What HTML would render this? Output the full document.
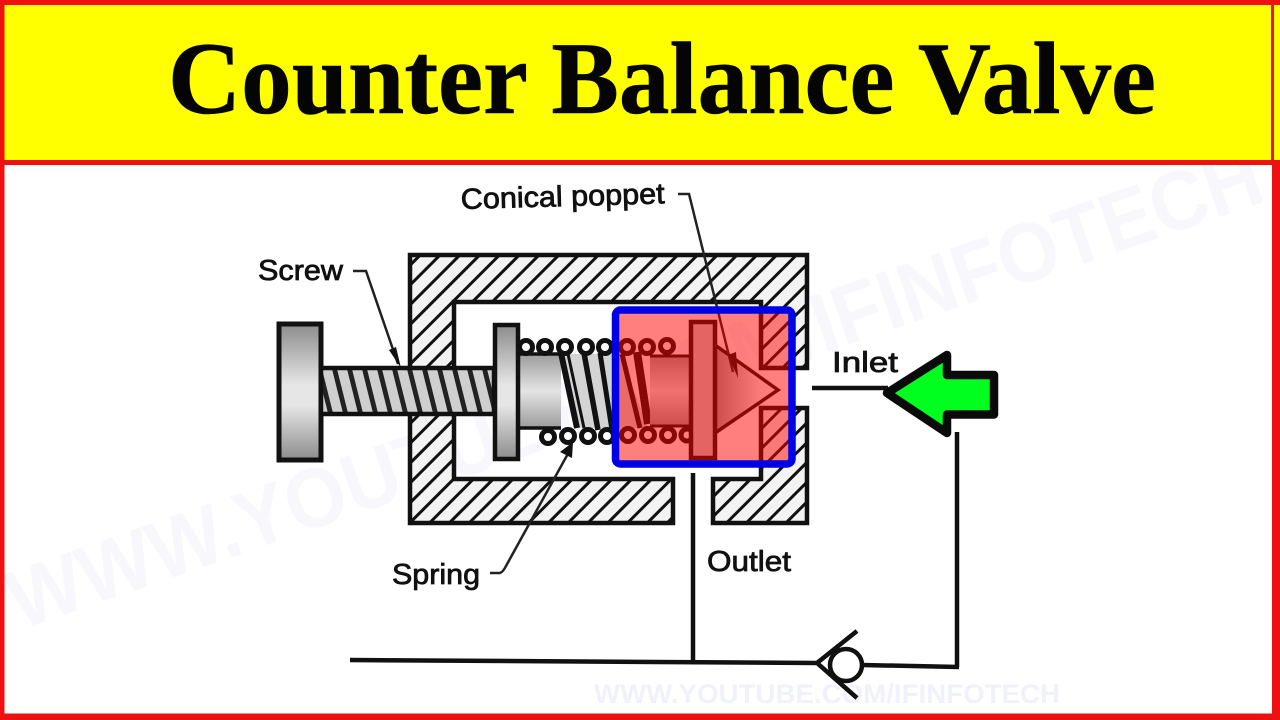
<!DOCTYPE html>
<html><head><meta charset="utf-8"><style>
html,body{margin:0;padding:0;background:#fff;width:1280px;height:720px;overflow:hidden}
svg{display:block}
</style></head><body>
<svg width="1280" height="720" viewBox="0 0 1280 720" xmlns="http://www.w3.org/2000/svg">
<defs>
<pattern id="hatch" width="14" height="14" patternUnits="userSpaceOnUse" patternTransform="rotate(45)">
<rect width="14" height="14" fill="#f3f3f3"/><rect x="0" width="3" height="14" fill="#111"/>
</pattern>
<linearGradient id="vg" x1="0" y1="0" x2="0" y2="1">
<stop offset="0" stop-color="#8c8c8c"/><stop offset=".45" stop-color="#e6e6e6"/><stop offset=".6" stop-color="#e6e6e6"/><stop offset="1" stop-color="#8c8c8c"/>
</linearGradient>
<linearGradient id="vg2" x1="0" y1="0" x2="0" y2="1">
<stop offset="0" stop-color="#9c9c9c"/><stop offset=".5" stop-color="#e4e4e4"/><stop offset="1" stop-color="#9c9c9c"/>
</linearGradient>
<linearGradient id="cone" x1="0" y1="0" x2="1" y2="0">
<stop offset="0" stop-color="#999"/><stop offset=".7" stop-color="#f4f4f4"/><stop offset="1" stop-color="#fff"/>
</linearGradient>
<pattern id="thread" width="15" height="50" patternUnits="userSpaceOnUse" patternTransform="skewX(14)">
<rect width="15" height="50" fill="#cfcfcf"/><rect x="0" width="5" height="50" fill="#222"/>
</pattern>
</defs>
<rect width="1280" height="720" fill="#fff"/>

<!-- watermark -->
<text x="20" y="630" font-family="Liberation Sans, sans-serif" font-weight="bold" font-size="84" fill="#f8f8fc" transform="rotate(-19 20 630)" textLength="1320" lengthAdjust="spacingAndGlyphs">WWW.YOUTUBE.COM/IFINFOTECH</text>
<text x="594" y="703" font-family="Liberation Sans, sans-serif" font-weight="bold" font-size="27" fill="#f1f1fa" textLength="466" lengthAdjust="spacingAndGlyphs">WWW.YOUTUBE.COM/IFINFOTECH</text>

<!-- valve body -->
<path d="M410 255H807V368H761V302H454V479H673V523H410Z" fill="url(#hatch)" stroke="#111" stroke-width="4.5"/>
<path d="M761 408H807V523H713V479H761Z" fill="url(#hatch)" stroke="#111" stroke-width="4.5"/>

<!-- knob -->
<rect x="279" y="324" width="42" height="136" fill="url(#vg)" stroke="#111" stroke-width="5"/>
<!-- shaft -->
<rect x="321" y="368" width="173" height="46" fill="url(#thread)" stroke="#111" stroke-width="4.5"/>
<!-- piston -->
<rect x="519" y="354" width="42" height="74" fill="url(#vg2)"/>
<path d="M519 354H561M519 428H561" stroke="#111" stroke-width="3.5"/>
<!-- spring strips -->
<path d="M560 354L620 354L648 428H578Z" fill="#d4d4d4"/>
<g stroke="#111" fill="none">
<path d="M561 353L577 428" stroke-width="6"/>
<path d="M568 354L584 428" stroke-width="3"/>
<path d="M584 353L598 430" stroke-width="5.5"/>
<path d="M600 353L612 430" stroke-width="5"/>
<path d="M622 354L640 428" stroke-width="5"/>
<path d="M637 352L648 424" stroke-width="8"/>
</g>
<!-- coils -->
<g fill="#fff" stroke="#111" stroke-width="5">
<circle cx="526" cy="347" r="6.5"/><circle cx="545" cy="347" r="6.5"/><circle cx="565" cy="347" r="6.5"/><circle cx="586" cy="347" r="6.5"/><circle cx="605" cy="347" r="6.5"/><circle cx="627" cy="347" r="6.5"/><circle cx="647" cy="347" r="6.5"/><circle cx="667" cy="346" r="6.5"/>
<circle cx="548" cy="437" r="6.5"/><circle cx="568" cy="436" r="6.5"/><circle cx="588" cy="436" r="6.5"/><circle cx="607" cy="436" r="6.5"/><circle cx="628" cy="435" r="6.5"/><circle cx="648" cy="435" r="6.5"/><circle cx="668" cy="435" r="6.5"/><circle cx="687" cy="435" r="6"/>
</g>
<!-- flange -->
<rect x="495" y="325" width="23" height="134" fill="url(#vg)" stroke="#111" stroke-width="4.5"/>
<!-- second piston -->
<rect x="650" y="356" width="40" height="70" fill="url(#vg2)"/>
<path d="M650 356H690M650 426H690" stroke="#111" stroke-width="3"/>
<!-- cone -->
<path d="M715 345L778 390L715 433Z" fill="url(#cone)" stroke="#111" stroke-width="3.5"/>
<!-- poppet flange -->
<rect x="691" y="322" width="24" height="136" fill="#c8c8c8" stroke="#111" stroke-width="4.5"/>

<!-- lines -->
<g stroke="#111" fill="none" stroke-width="4.5">
<path d="M812 388H888"/>
<path d="M957 432V667"/>
<path d="M693 473V660"/>
<path d="M350 660L816 663"/>
<path d="M862 665L959 667"/>
<circle cx="846" cy="665" r="16"/>
<path d="M857 631L817 663L857 698"/>
</g>
<!-- leaders -->
<g stroke="#222" fill="none" stroke-width="2.5">
<path d="M353 271H366L398 364"/>
<path d="M678 194H689L733 372"/>
<path d="M490 573H500Q503 572 506 566L570 450"/>
</g>
<g fill="#111">
<path d="M401 368L389 350L396 347Z"/>
<path d="M738 378L728 355L736 352Z"/>
<path d="M573 442L572 458L560 452Z"/>
</g>

<!-- labels -->
<g font-family="Liberation Sans, sans-serif" fill="#111" font-size="29" stroke="#111" stroke-width=".8">
<text x="461" y="209" textLength="204" lengthAdjust="spacingAndGlyphs" transform="rotate(-1.6 461 209)">Conical poppet</text>
<text x="258" y="280" textLength="85" lengthAdjust="spacingAndGlyphs">Screw</text>
<text x="392" y="584" textLength="88" lengthAdjust="spacingAndGlyphs">Spring</text>
<text x="707" y="571" textLength="84" lengthAdjust="spacingAndGlyphs">Outlet</text>
<text x="832" y="372" textLength="66" lengthAdjust="spacingAndGlyphs">Inlet</text>
</g>

<!-- highlight box -->
<rect x="615.5" y="310" width="176.5" height="154" rx="5" fill="#ff0000" fill-opacity=".5" stroke="#0000e6" stroke-width="7.5"/>

<!-- green arrow -->
<path d="M887 393L947 355V375H994V414.500H947V433Z" fill="#00ff1e" stroke="#0a0a0a" stroke-width="8.500" stroke-linejoin="round"/>

<!-- header -->
<rect x="0" y="0" width="1280" height="162" fill="#ffff00"/>
<text x="168" y="113" font-family="Liberation Serif, serif" font-weight="bold" font-size="103" fill="#050505" stroke="#050505" stroke-width=".6" textLength="988" lengthAdjust="spacingAndGlyphs">Counter Balance Valve</text>
<rect x="0" y="160" width="1280" height="5" fill="#ee1111"/>
<rect x="0" y="0" width="1280" height="5" fill="#ee1111"/>
<rect x="0" y="0" width="4.500" height="720" fill="#ee1111"/>
<rect x="1271" y="0" width="3" height="165" fill="#ee1111"/>
<rect x="1272" y="165" width="8" height="555" fill="#ee1111"/>
<rect x="0" y="713.500" width="1280" height="6.500" fill="#ee1111"/>
</svg>
</body></html>
